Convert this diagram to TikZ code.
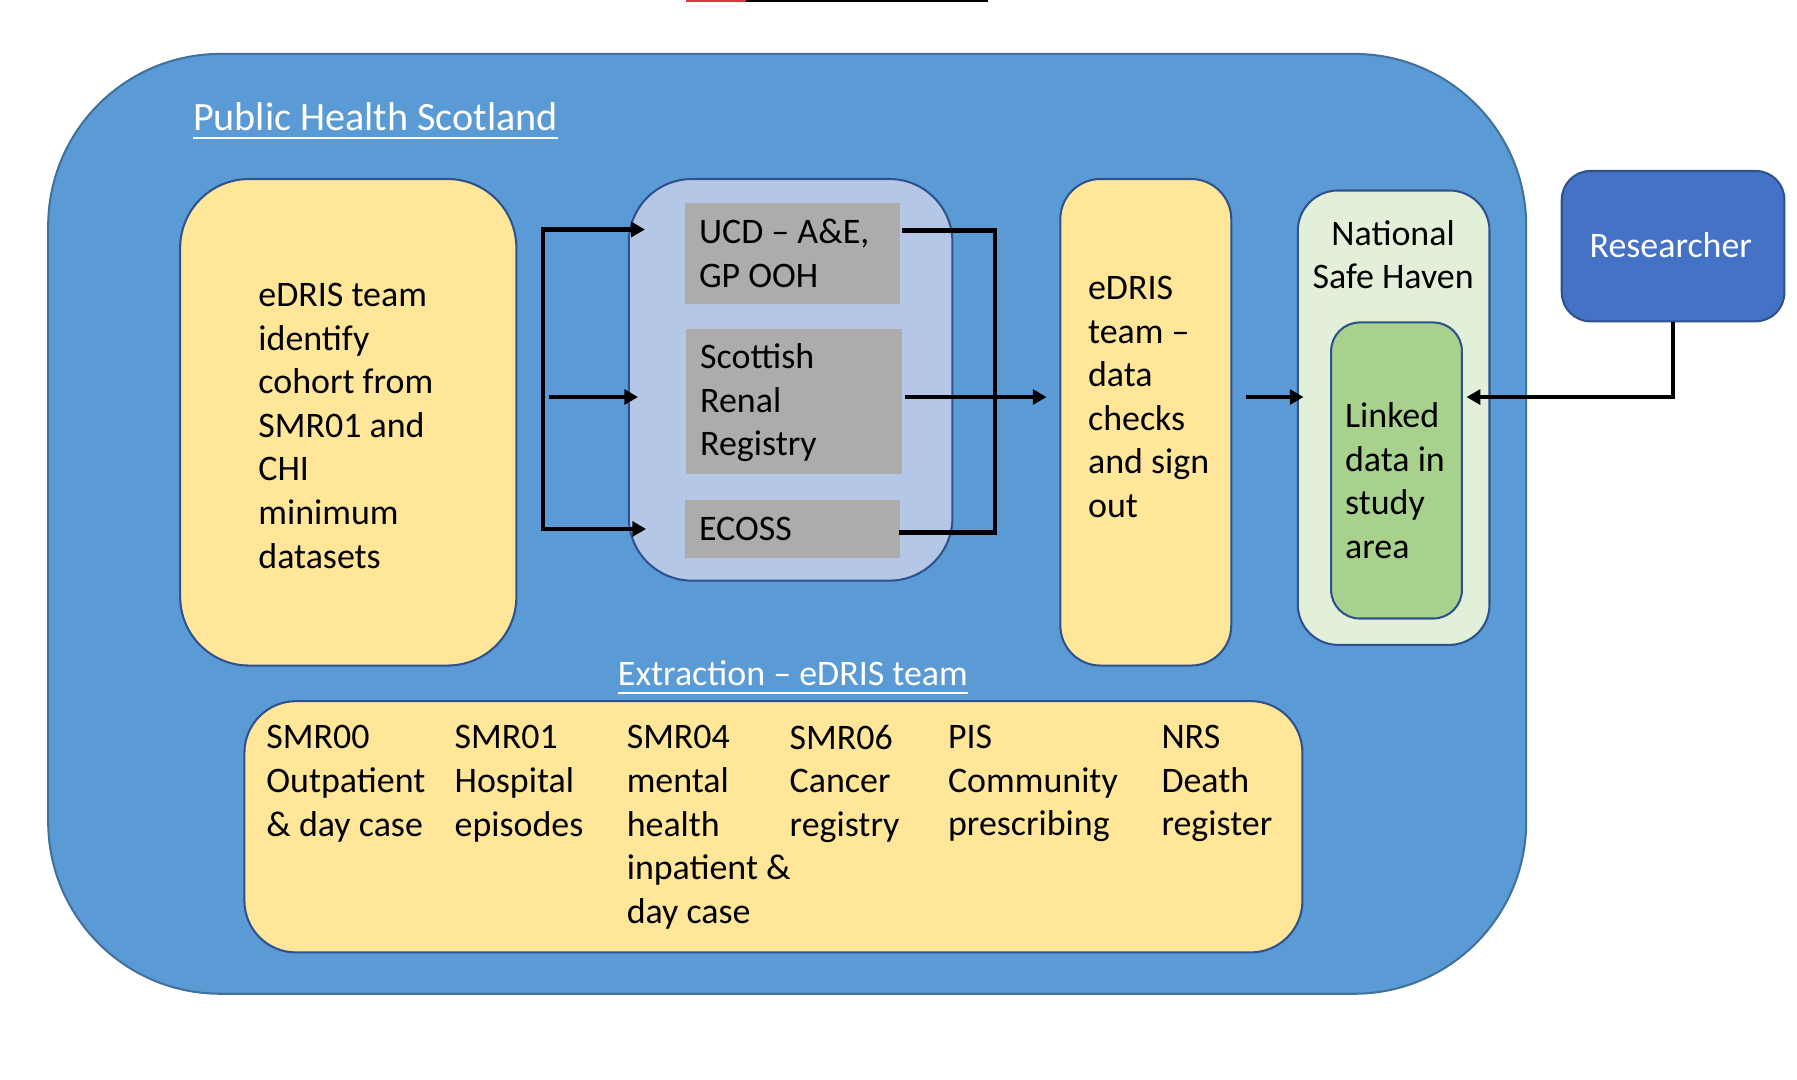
\documentclass[tikz,border=0pt]{standalone}
\usepackage{fontspec}
\setmainfont{Carlito}
\usetikzlibrary{arrows.meta}
\definecolor{phsblue}{HTML}{5B9BD5}
\definecolor{phsedge}{HTML}{41719C}
\definecolor{darkedge}{HTML}{2F528F}
\definecolor{paleyellow}{HTML}{FFE699}
\definecolor{paleblue}{HTML}{B4C7E7}
\definecolor{greybox}{HTML}{AEABAB}
\definecolor{palegreen}{HTML}{E2F0D9}
\definecolor{midgreen}{HTML}{A9D18E}
\definecolor{resblue}{HTML}{4472C4}
\definecolor{topred}{HTML}{D9363E}
\begin{document}
\begin{tikzpicture}[x=1pt,y=-1pt,
  box/.style={draw=darkedge, line width=1.8pt, inner sep=0pt},
  txt/.style={inner sep=0pt, align=left, font=\fontsize{31.3}{38}\selectfont},
  conn/.style={line width=3.9pt, draw=black},
  arr/.style={conn, -{Triangle[length=12pt,width=13pt]}}]
\useasboundingbox (0,0) rectangle (1566,941);
% artefact line at the top edge
\draw[topred, line width=2pt] (598,1) -- (650,1);
\draw[black, line width=2pt] (650,1) -- (861,1);

% outer container
\node[draw=phsedge, line width=1.8pt, fill=phsblue, rounded corners=150pt,
  minimum width=1288pt, minimum height=819pt, inner sep=0pt] (phs) at (686,456.5) {};
\node[txt, anchor=west, text=white, font=\fontsize{35}{42}\selectfont] (ttl) at (168,102) {Public Health Scotland};
\draw[white, line width=2pt] ([yshift=-6pt]ttl.base west) -- ([yshift=-6pt]ttl.base east);

% left yellow box
\node[box, fill=paleyellow, rounded corners=60pt, minimum width=293pt, minimum height=424pt] (left) at (303.5,368) {};
\node[txt, anchor=west] (lefttxt) at (225,371) {eDRIS team\\identify\\cohort from\\SMR01 and\\CHI\\minimum\\datasets};

% middle light blue box with grey sources
\node[box, fill=paleblue, rounded corners=55pt, minimum width=282pt, minimum height=350pt] (mid) at (689,331) {};
\node[fill=greybox, inner sep=0pt, minimum width=187pt, minimum height=88pt] (ucd) at (690.5,221) {};
\node[txt, anchor=west] (ucdtxt) at (609,221) {UCD -- A\&E,\\GP OOH};
\node[fill=greybox, inner sep=0pt, minimum width=188pt, minimum height=126pt] (srr) at (692,350) {};
\node[txt, anchor=west] (srrtxt) at (610,351) {Scottish\\Renal\\Registry};
\node[fill=greybox, inner sep=0pt, minimum width=187pt, minimum height=50pt] (ecoss) at (690.5,461) {};
\node[txt, anchor=west] (ecosstxt) at (609,461) {ECOSS};

% right yellow box
\node[box, fill=paleyellow, rounded corners=35pt, minimum width=149pt, minimum height=424pt] (check) at (998.5,368) {};
\node[txt, anchor=west] (checktxt) at (948,346) {eDRIS\\team --\\data\\checks\\and sign\\out};

% national safe haven
\node[box, fill=palegreen, rounded corners=35pt, minimum width=167pt, minimum height=396pt] (nsh) at (1214.5,364) {};
\node[txt, align=center] (nshtxt) at (1214,222) {National\\Safe Haven};
\node[box, fill=midgreen, rounded corners=25pt, minimum width=114pt, minimum height=258pt] (linked) at (1217,410) {};
\node[txt, anchor=west] (linkedtxt) at (1172,419) {Linked\\data in\\study\\area};

% researcher
\node[box, fill=resblue, rounded corners=25pt, minimum width=194pt, minimum height=131pt] (res) at (1458,214.5) {};
\node[txt, text=white] (restxt) at (1456,214) {Researcher};

% extraction
\node[txt, text=white] (extr) at (691,587) {Extraction -- eDRIS team};
\draw[white, line width=2pt] ([yshift=-6pt]extr.base west) -- ([yshift=-6pt]extr.base east);
\node[box, fill=paleyellow, rounded corners=45pt, minimum width=922pt, minimum height=219pt] (extbox) at (674,720.5) {};
\node[txt, anchor=west] (c1) at (232,683) {SMR00\\Outpatient\\\& day case};
\node[txt, anchor=west] (c2) at (396,683) {SMR01\\Hospital\\episodes};
\node[txt, anchor=west] (c3) at (546,721) {SMR04\\mental\\health\\inpatient \&\\day case};
\node[txt, anchor=west] (c4) at (688,683) {SMR06\\Cancer\\registry};
\node[txt, anchor=west] (c5) at (826,683) {PIS\\Community\\prescribing};
\node[txt, anchor=west] (c6) at (1012,683) {NRS\\Death\\register};

% connector points
\coordinate (ltop) at (473,200);
\coordinate (lbot) at (473,461);
\coordinate (lmid) at (478,346);
\coordinate (tipucd) at (562,200);
\coordinate (tipsrr) at (556,346);
\coordinate (tipecoss) at (563,461);
\coordinate (rtop) at (867,201);
\coordinate (rbot) at (867,464);
\coordinate (fromucd) at (786,201);
\coordinate (fromecoss) at (783,464);
\coordinate (fromsrr) at (789,346);
\coordinate (tipcheck) at (912,346);
\coordinate (fromcheck) at (1086,346);
\coordinate (tipnsh) at (1136,346);
\coordinate (tiplinked) at (1278,346);

% left fan-out
\draw[conn, line cap=rect] (ltop) -- (lbot);
\draw[arr] (ltop) -- (tipucd);
\draw[arr] (lbot) -- (tipecoss);
\draw[arr] (lmid) -- (tipsrr);
% right fan-in
\draw[conn] (fromucd) -- (rtop) -- (rbot) -- (fromecoss);
\draw[arr] (fromsrr) -- (tipcheck);
\draw[arr] (fromcheck) -- (tipnsh);
% researcher access
\draw[arr] (res.south) |- (tiplinked);
\end{tikzpicture}
\end{document}
